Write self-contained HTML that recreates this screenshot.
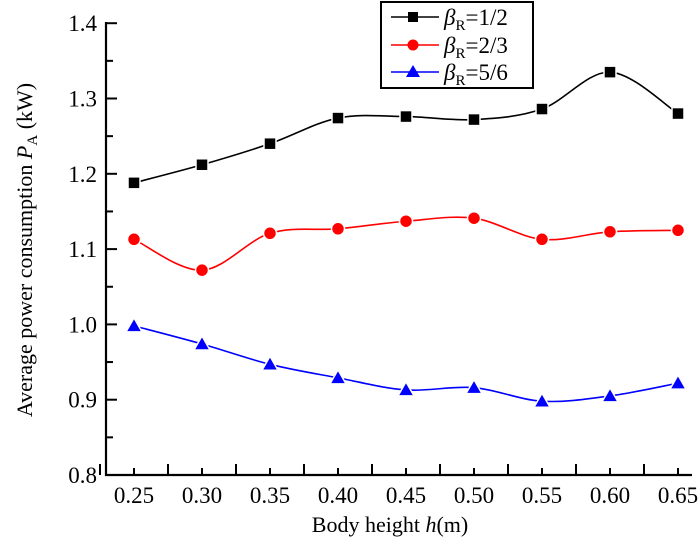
<!DOCTYPE html>
<html><head><meta charset="utf-8"><style>
html,body{margin:0;padding:0;background:#fff;}
svg{display:block;font-family:"Liberation Serif",serif;}
</style></head><body>
<svg id="s" width="700" height="557" viewBox="0 0 700 557" xmlns="http://www.w3.org/2000/svg">
<g stroke="#000" stroke-width="2.2" fill="none">
<line x1="106" y1="22" x2="106" y2="476"/>
<line x1="105" y1="475" x2="692" y2="475"/>
</g>
<g id="ticks" stroke="#000" stroke-width="2"></g>
<g font-size="23" fill="#000" id="lbl"></g>
<text x="390" y="532" font-size="22" text-anchor="middle">Body height <tspan font-style="italic">h</tspan>(m)</text>
<text transform="translate(32,250) rotate(-90)" font-size="22" text-anchor="middle">Average power consumption <tspan font-style="italic">P</tspan><tspan font-size="15" dy="5">A</tspan><tspan dy="-5"> (kW)</tspan></text>
<g id="series"></g>
<rect x="381" y="2" width="152" height="86" fill="#fff" stroke="#000" stroke-width="2"/>
<g font-size="23">
<line x1="391" y1="17" x2="439" y2="17" stroke="#000" stroke-width="1.5"/><rect x="408" y="12" width="10" height="10" fill="#000"/>
<text x="444" y="25"><tspan font-style="italic">β</tspan><tspan font-size="15" dy="5">R</tspan><tspan dy="-5">=1/2</tspan></text>
<line x1="391" y1="45" x2="439" y2="45" stroke="#f00" stroke-width="1.5"/><circle cx="413" cy="45" r="5.5" fill="#f00"/>
<text x="444" y="53"><tspan font-style="italic">β</tspan><tspan font-size="15" dy="5">R</tspan><tspan dy="-5">=2/3</tspan></text>
<line x1="391" y1="72" x2="439" y2="72" stroke="#00f" stroke-width="1.5"/><polygon points="413,65 420,77 406,77" fill="#00f"/>
<text x="444" y="80"><tspan font-style="italic">β</tspan><tspan font-size="15" dy="5">R</tspan><tspan dy="-5">=5/6</tspan></text>
</g>
</svg>
<script>
var NS="http://www.w3.org/2000/svg";
function el(t,a,p){var e=document.createElementNS(NS,t);for(var k in a)e.setAttribute(k,a[k]);p.appendChild(e);return e;}
var tk=document.getElementById('ticks'),lb=document.getElementById('lbl');
function Y(v){return 475-(v-0.8)*753;}
function X(h){return 134+(h-0.25)/0.05*68;}
for(var i=0;i<=12;i++){var v=0.8+i*0.05,y=Y(v);el('line',{x1:106,x2:i%2?113:117,y1:y,y2:y},tk);
 if(i%2==0){var t=el('text',{x:97,y:y+8,'text-anchor':'end'},lb);t.textContent=v.toFixed(1);}}
for(var i=0;i<=17;i++){var h=0.225+i*0.025,x=X(h);if(x>692)break;el('line',{x1:x,x2:x,y1:475,y2:i%2?468:464},tk);
 if(i%2==1){var t=el('text',{x:x,y:503,'text-anchor':'middle'},lb);t.textContent=h.toFixed(2);}}
var data=[
 ['#000',[1.188,1.212,1.240,1.274,1.276,1.272,1.286,1.335,1.280],'sq'],
 ['#f00',[1.113,1.072,1.121,1.127,1.137,1.141,1.113,1.123,1.125],'ci'],
 ['#00f',[0.998,0.974,0.947,0.929,0.913,0.916,0.898,0.905,0.922],'tr']];
var sg=document.getElementById('series');
data.forEach(function(d){var P=d[1].map(function(v,i){return [X(0.25+i*0.05),Y(v)];});
 var s='M'+P[0];for(var i=0;i<P.length-1;i++){var p0=P[Math.max(i-1,0)],p1=P[i],p2=P[i+1],p3=P[Math.min(i+2,P.length-1)];
 var c1=[p1[0]+(p2[0]-p0[0])/6,p1[1]+(p2[1]-p0[1])/6],c2=[p2[0]-(p3[0]-p1[0])/6,p2[1]-(p3[1]-p1[1])/6];
 s+=' C'+c1+' '+c2+' '+p2;}
 el('path',{d:s,fill:'none',stroke:d[0],'stroke-width':1.6},sg);
 P.forEach(function(p){if(d[2]=='sq')el('rect',{x:p[0]-6,y:p[1]-6,width:12,height:12,fill:d[0],stroke:'#fff','stroke-width':1.5},sg);
 else if(d[2]=='ci')el('circle',{cx:p[0],cy:p[1],r:6.5,fill:d[0],stroke:'#fff','stroke-width':1.5},sg);
 else el('polygon',{points:[p[0],p[1]-8,p[0]+8,p[1]+6,p[0]-8,p[1]+6].join(' '),fill:d[0],stroke:'#fff','stroke-width':1.5},sg);});
});
</script>
</body></html>
